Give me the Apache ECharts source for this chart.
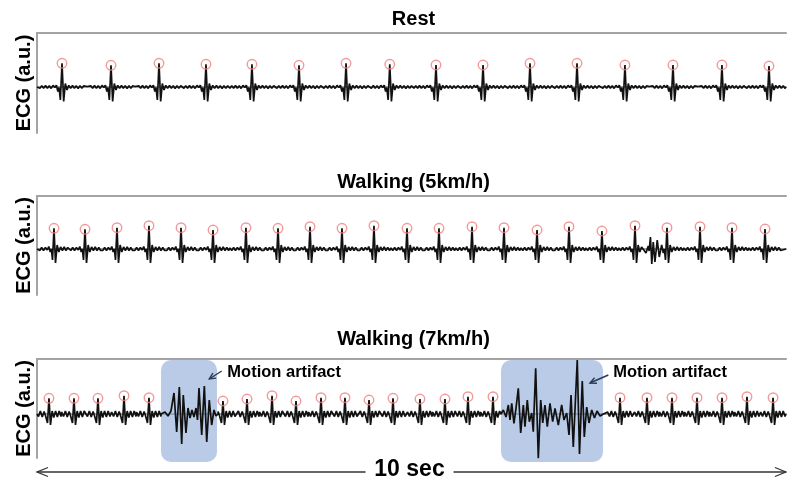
<!DOCTYPE html>
<html><head><meta charset="utf-8">
<script src="https://cdn.jsdelivr.net/npm/echarts/dist/echarts.min.js"></script>
<style>html,body{margin:0;padding:0;background:#fff}#c{width:787px;height:480px}</style>
</head><body><div id="c"></div>
<script>
// ---------- text ----------
const PANEL_TITLES = ['Rest', 'Walking (5km/h)', 'Walking (7km/h)'];
const Y_LABEL = 'ECG (a.u.)';
const DURATION_LABEL = '10 sec';
const ARTIFACT_LABEL = 'Motion artifact';

// ---------- data (time in s, amplitude in a.u. relative to baseline) ----------
const T_REST = [0.334, 0.988, 1.629, 2.256, 2.870, 3.498, 4.126, 4.710, 5.327, 5.955, 6.582, 7.210, 7.850, 8.491, 9.145, 9.773];
const A_REST = [23.7, 21.7, 23.7, 22.7, 22.7, 21.7, 23.7, 22.7, 22, 22, 23.7, 23.7, 22, 22, 22, 21];

const T_W5 = [0.227, 0.641, 1.068, 1.495, 1.923, 2.350, 2.790, 3.218, 3.645, 4.072, 4.499, 4.940, 5.367, 5.808, 6.235, 6.676, 7.103, 7.543, 7.984, 8.411, 8.852, 9.279, 9.720];
const A_W5 = [20.7, 19.7, 21.3, 23.3, 21.3, 19, 21.3, 20.7, 22.3, 20.7, 23.3, 20.7, 20.7, 22.3, 21.3, 19, 22.3, 18, 23.3, 21.3, 22.3, 21.3, 20];

const T_W7 = [0.160, 0.494, 0.814, 1.162, 1.495, 2.483, 2.804, 3.138, 3.458, 3.792, 4.112, 4.433, 4.753, 5.113, 5.447, 5.754, 6.088, 7.784, 8.144, 8.478, 8.812, 9.146, 9.479, 9.827];
const A_W7 = [15.7, 15.7, 15.7, 18.3, 16.3, 13, 15, 18.3, 13, 16.3, 16.3, 14, 15.7, 15, 15, 17.3, 17.3, 16.3, 16.3, 16.3, 16.3, 16.3, 17.3, 16.3];

// beat shapes around each R peak: [dt (s), amplitude]
const TPL_REST = [[-0.32,0.5],[-0.295,-1.2],[-0.27,1.2],[-0.245,-1.2],[-0.22,1.4],[-0.195,-1.2],[-0.17,1.2],[-0.145,-1.4],[-0.12,1.6],[-0.095,-0.5],[-0.075,1.8],[-0.055,-4.5],[-0.04,-0.5],[-0.022,-13],[0.022,-14.5],[0.044,3.5],[0.067,-3],[0.09,1.6],[0.115,-1.2],[0.14,1.4],[0.165,-1.2],[0.19,1.2],[0.215,-1.4],[0.24,1.2],[0.265,-1.2],[0.29,1.2],[0.315,-0.8]];
const TPL_W5 = [[-0.215,1],[-0.19,-1.5],[-0.165,1.5],[-0.14,-1.5],[-0.115,1.5],[-0.09,-1],[-0.07,2.5],[-0.05,-3],[-0.035,0],[-0.02,-11],[0.02,-14],[0.042,4],[0.064,-3],[0.088,2],[0.112,-1.5],[0.136,2],[0.16,-1.5],[0.184,1.5],[0.208,-1.5]];
const TPL_W7 = [[-0.165,2],[-0.14,-2.5],[-0.115,3],[-0.09,-3],[-0.065,2.5],[-0.045,-2],[-0.02,-9],[0.02,-11],[0.042,3],[0.064,-3.5],[0.088,3],[0.112,-3],[0.136,3],[0.16,-2.5]];

// noisy segments: [t, amplitude]
const BURST_W5 = [[8.094,2],[8.131,-4],[8.161,3],[8.173,-2],[8.190,12],[8.208,-15],[8.228,7],[8.250,-13],[8.281,9],[8.308,-8],[8.340,4],[8.362,-4]];
const ARTIFACT_1 = [[1.656,0],[1.709,2],[1.749,-2],[1.789,3],[1.829,21],[1.865,-18],[1.900,27],[1.932,-30],[1.953,19],[1.989,-19],[2.016,6],[2.043,-4],[2.069,4],[2.096,-3],[2.123,6],[2.143,-6],[2.163,26],[2.199,-21],[2.234,28],[2.266,-28],[2.300,14],[2.332,-11],[2.363,4],[2.390,-2],[2.417,0]];
const ARTIFACT_2 = [[6.195,0],[6.226,4],[6.262,-3],[6.293,9],[6.315,-6],[6.338,10.7],[6.368,-9.3],[6.395,5.7],[6.426,25.7],[6.458,-19],[6.493,9],[6.515,-12.7],[6.546,14],[6.573,-7.7],[6.605,1],[6.626,-17.7],[6.658,45.7],[6.693,-44.3],[6.725,14],[6.752,-9],[6.782,9],[6.813,-12.7],[6.849,10.7],[6.885,-7.7],[6.916,5.7],[6.960,-11],[7.005,9],[7.036,-6],[7.072,1],[7.103,-21],[7.130,19],[7.160,-33],[7.213,54],[7.243,-40],[7.280,33],[7.307,-23],[7.339,7],[7.370,-9],[7.406,4],[7.443,-4],[7.477,3],[7.517,-2],[7.561,0]];
const ARTIFACT_WINDOWS = [[1.656, 2.403], [6.195, 7.557]];

// ---------- layout ----------
const GRID_LEFT = 37, GRID_WIDTH = 749;
const PANELS = [
  {peaks: T_REST, amps: A_REST, tpl: TPL_REST, segs: [], top: 33, height: 100, min: -46, max: 54, titleY: 19},
  {peaks: T_W5, amps: A_W5, tpl: TPL_W5, segs: [BURST_W5], top: 196, height: 99, min: -46, max: 53, titleY: 182},
  {peaks: T_W7, amps: A_W7, tpl: TPL_W7, segs: [ARTIFACT_1, ARTIFACT_2], top: 359, height: 99, min: -44, max: 55, titleY: 339}
];
const BOX_TOP = 54, BOX_BOTTOM = -48;
const ANNOTATIONS = [
  {text: [2.541, 42], tail: [2.466, 43], head: [2.300, 35]},
  {text: [7.694, 42], tail: [7.628, 39], head: [7.383, 31]}
];
const DURATION_Y = -58;
const FONT = '"Liberation Sans", Arial, sans-serif';
const BORDER = {color: '#a3a3a3', width: 2};

function buildSignal(p) {
  const segs = p.segs;
  const inSeg = t => segs.some(s => t >= s[0][0] && t <= s[s.length - 1][0]);
  const pts = [[0, 0], [10, 0]];
  p.peaks.forEach((t0, i) => {
    const lo = i ? (p.peaks[i - 1] + t0) / 2 : 0;
    const hi = i < p.peaks.length - 1 ? (t0 + p.peaks[i + 1]) / 2 : 10;
    p.tpl.concat([[0, p.amps[i]]]).forEach(([dt, v]) => {
      const t = t0 + dt;
      if (t > lo && t < hi && t > 0 && t < 10 && !inSeg(t)) pts.push([t, v]);
    });
  });
  segs.forEach(s => s.forEach(q => pts.push(q)));
  pts.sort((a, b) => a[0] - b[0]);
  return pts;
}

const grid = [], xAxis = [], yAxis = [], series = [], graphic = [];
PANELS.forEach((p, i) => {
  grid.push({left: GRID_LEFT, width: GRID_WIDTH, top: p.top, height: p.height});
  const ax = {type: 'value', min: 0, max: 10, gridIndex: i, axisLine: {show: true, lineStyle: BORDER}, axisTick: {show: false}, axisLabel: {show: false}, splitLine: {show: false}};
  xAxis.push(Object.assign({}, ax, {position: 'bottom'}));
  xAxis.push(Object.assign({}, ax, {position: 'top'}));
  yAxis.push({type: 'value', min: p.min, max: p.max, gridIndex: i, axisLine: {show: true, onZero: false, lineStyle: BORDER}, axisTick: {show: false}, axisLabel: {show: false}, splitLine: {show: false},
    name: Y_LABEL, nameLocation: 'middle', nameGap: 3, nameTextStyle: {fontSize: 20, fontWeight: 'bold', fontFamily: FONT, color: '#000'}});
  series.push({type: 'line', xAxisIndex: 2 * i, yAxisIndex: i, data: buildSignal(p), showSymbol: false, lineStyle: {color: '#111', width: 1.7}, z: 3, silent: true});
  series.push({type: 'scatter', xAxisIndex: 2 * i, yAxisIndex: i, data: p.peaks.map((t, k) => [t, p.amps[k]]), symbol: 'circle', symbolSize: 9.5,
    itemStyle: {color: 'rgba(0,0,0,0)', borderColor: '#f07f7f', borderWidth: 1.4}, z: 4, silent: true});
  graphic.push({type: 'text', x: GRID_LEFT + GRID_WIDTH / 2 + 2, y: p.titleY, style: {text: PANEL_TITLES[i], font: 'bold 20px ' + FONT, fill: '#000', textAlign: 'center', textVerticalAlign: 'middle'}});
});

// artifact shading
series.push({type: 'custom', xAxisIndex: 4, yAxisIndex: 2, clip: false, z: 1, silent: true, data: ARTIFACT_WINDOWS,
  renderItem: (params, api) => {
    const a = api.coord([api.value(0), BOX_TOP]), b = api.coord([api.value(1), BOX_BOTTOM]);
    return {type: 'rect', shape: {x: a[0], y: a[1], width: b[0] - a[0], height: b[1] - a[1], r: 10}, style: {fill: 'rgba(138,168,214,0.6)'}};
  }});
// annotations
series.push({type: 'custom', xAxisIndex: 4, yAxisIndex: 2, clip: false, z: 5, silent: true, data: ANNOTATIONS.map(a => a.text),
  renderItem: (params, api) => {
    const a = ANNOTATIONS[params.dataIndex];
    const tp = api.coord(a.text), tl = api.coord(a.tail), hd = api.coord(a.head);
    const ang = Math.atan2(tl[1] - hd[1], tl[0] - hd[0]), L = 7, w = 0.45;
    const h1 = [hd[0] + L * Math.cos(ang + w), hd[1] + L * Math.sin(ang + w)];
    const h2 = [hd[0] + L * Math.cos(ang - w), hd[1] + L * Math.sin(ang - w)];
    return {type: 'group', children: [
      {type: 'line', shape: {x1: tl[0], y1: tl[1], x2: hd[0], y2: hd[1]}, style: {stroke: '#2a3a55', lineWidth: 1.4}},
      {type: 'polyline', shape: {points: [h1, hd, h2]}, style: {stroke: '#2a3a55', lineWidth: 1.4, fill: null}},
      {type: 'text', x: tp[0], y: tp[1], style: {text: ARTIFACT_LABEL, font: 'bold 16.5px ' + FONT, fill: '#000', textAlign: 'left', textVerticalAlign: 'middle'}}
    ]};
  }});
// 10 sec arrow
series.push({type: 'custom', xAxisIndex: 4, yAxisIndex: 2, clip: false, z: 5, silent: true, data: [[0, 10]],
  renderItem: (params, api) => {
    const p0 = api.coord([api.value(0), DURATION_Y]), p1 = api.coord([api.value(1), DURATION_Y]);
    const cx = (p0[0] + p1[0]) / 2 - 2, y = p0[1], gap = 44;
    const st = {stroke: '#333', lineWidth: 1.3, fill: null};
    return {type: 'group', children: [
      {type: 'line', shape: {x1: p0[0], y1: y, x2: cx - gap, y2: y}, style: st},
      {type: 'line', shape: {x1: cx + gap, y1: y, x2: p1[0], y2: y}, style: st},
      {type: 'polyline', shape: {points: [[p0[0] + 11, y - 4.5], [p0[0], y], [p0[0] + 11, y + 4.5]]}, style: st},
      {type: 'polyline', shape: {points: [[p1[0] - 11, y - 4.5], [p1[0], y], [p1[0] - 11, y + 4.5]]}, style: st},
      {type: 'text', x: cx, y: y - 2, style: {text: DURATION_LABEL, font: 'bold 23px ' + FONT, fill: '#000', textAlign: 'center', textVerticalAlign: 'middle'}}
    ]};
  }});

const chart = echarts.init(document.getElementById('c'), null, {renderer: 'canvas'});
chart.setOption({animation: false, backgroundColor: '#fff', grid, xAxis, yAxis, series, graphic});
</script></body></html>
